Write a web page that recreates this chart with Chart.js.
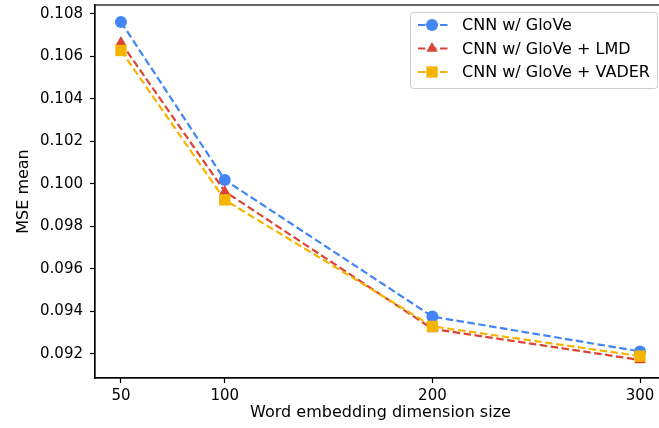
<!DOCTYPE html>
<html lang="en">
<head>
  <meta charset="UTF-8" />
  <title>MSE vs embedding size</title>
  <script src="https://cdn.jsdelivr.net/npm/chart.js"></script>
  <style>
    html, body { margin: 0; padding: 0; background: #fff; overflow: hidden; }
    canvas { display: block; }
  </style>
</head>
<body>
  <canvas id="mseChart" width="672" height="428"></canvas>

  <script>
    // data
    const dims = [50, 100, 200, 300];
    const gloveMse = [0.10762, 0.10019, 0.09376, 0.09212];
    const lmdMse = [0.10665, 0.09965, 0.09318, 0.09172];
    const vaderMse = [0.10628, 0.09925, 0.09330, 0.09190];
    const seriesNames = ["CNN w/ GloVe", "CNN w/ GloVe + LMD", "CNN w/ GloVe + VADER"];
    const xTicks = [50, 100, 200, 300];
    const yTicks = [0.092, 0.094, 0.096, 0.098, 0.100, 0.102, 0.104, 0.106, 0.108];

    const FONT = "'DejaVu Sans', sans-serif";
    const dash = [7.5, 3.5];

    function series(label, vals, color, shape, radius, order) {
      return {
        label: label,
        data: dims.map((d, i) => ({ x: d, y: vals[i] })),
        borderColor: color,
        backgroundColor: color,
        borderWidth: 2.2,
        borderDash: dash,
        pointStyle: shape,
        pointRadius: radius,
        pointBorderWidth: 0,
        pointHoverRadius: radius,
        order: order
      };
    }

    // spines + matplotlib style legend box
    const framePlugin = {
      id: "frame",
      afterDatasetsDraw(chart) {
        const { ctx, chartArea: a } = chart;
        ctx.save();
        ctx.strokeStyle = "#000";
        ctx.lineWidth = 1.2;
        ctx.strokeRect(a.left, a.top, a.right - a.left, a.bottom - a.top);

        // legend
        const bx = 410, by = 12, bw = 247, bh = 76;
        ctx.fillStyle = "rgba(255,255,255,0.8)";
        ctx.strokeStyle = "#cccccc";
        ctx.lineWidth = 1;
        ctx.beginPath();
        ctx.roundRect(bx + 0.5, by + 0.5, bw, bh, 3);
        ctx.fill();
        ctx.stroke();
        chart.data.datasets.forEach((ds, i) => {
          const y = by + 13 + i * 23.5;
          ctx.strokeStyle = ds.borderColor;
          ctx.lineWidth = 2.2;
          ctx.setLineDash(dash);
          ctx.beginPath();
          ctx.moveTo(bx + 8, y);
          ctx.lineTo(bx + 38, y);
          ctx.stroke();
          ctx.setLineDash([]);
          ctx.fillStyle = ds.borderColor;
          Chart.helpers.drawPoint(ctx, { pointStyle: ds.pointStyle, radius: ds.pointRadius, borderWidth: 0, rotation: 0 }, bx + 22, y);
          ctx.fillStyle = "#000";
          ctx.font = "16px " + FONT;
          ctx.textBaseline = "middle";
          ctx.fillText(ds.label, bx + 52, y + 1);
        });
        ctx.restore();
      }
    };

    new Chart(document.getElementById("mseChart"), {
      type: "line",
      data: {
        datasets: [
          series(seriesNames[0], gloveMse, "#4285F4", "circle", 6, 3),
          series(seriesNames[1], lmdMse, "#DB4437", "triangle", 6.5, 2),
          series(seriesNames[2], vaderMse, "#F4B400", "rect", 8, 1)
        ]
      },
      options: {
        responsive: false,
        animation: false,
        layout: { autoPadding: false, padding: { top: 5, right: 6, left: 14, bottom: 0 } },
        plugins: { legend: { display: false }, tooltip: { enabled: false } },
        scales: {
          x: {
            type: "linear",
            min: 37.5,
            max: 312.5,
            afterBuildTicks: s => { s.ticks = xTicks.map(v => ({ value: v })); },
            afterFit: s => { s.height = 50; s.paddingLeft = 0; s.paddingRight = 0; },
            grid: { drawOnChartArea: false, color: "#000", tickLength: 5, tickWidth: 1.2 },
            border: { color: "#000", width: 1.2 },
            ticks: { color: "#000", font: { family: FONT, size: 15 }, padding: 4, maxRotation: 0 },
            title: { display: true, text: "Word embedding dimension size", color: "#000", font: { family: FONT, size: 16 }, padding: { top: 2, bottom: 6 } }
          },
          y: {
            min: 0.09087,
            max: 0.10842,
            afterBuildTicks: s => { s.ticks = yTicks.map(v => ({ value: v })); },
            afterFit: s => { s.width = 81; s.paddingTop = 0; s.paddingBottom = 0; },
            grid: { drawOnChartArea: false, color: "#000", tickLength: 5, tickWidth: 1.2 },
            border: { color: "#000", width: 1.2 },
            ticks: { color: "#000", font: { family: FONT, size: 15 }, padding: 7, callback: v => v.toFixed(3) },
            title: { display: true, text: "MSE mean", color: "#000", font: { family: FONT, size: 16 }, padding: { top: 0, bottom: 4 } }
          }
        }
      },
      plugins: [framePlugin]
    });
  </script>
</body>
</html>
